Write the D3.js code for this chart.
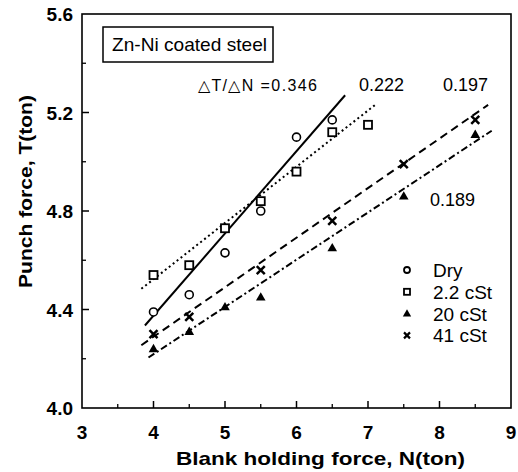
<!DOCTYPE html>
<html>
<head>
<meta charset="utf-8">
<script src="https://cdn.jsdelivr.net/npm/d3@7"></script>
<style>
  body { margin: 0; background: #fff; }
  svg text { font-family: "Liberation Sans", Arial, sans-serif; fill: #000; }
</style>
</head>
<body>
<svg id="chart" width="518" height="472"></svg>
<script>
// data
var xTicks = [3, 4, 5, 6, 7, 8, 9];
var yTicks = [4.0, 4.4, 4.8, 5.2, 5.6];
var xMinor = [3.5, 4.5, 5.5, 6.5, 7.5, 8.5];
var yMinor = [4.2, 4.6, 5.0, 5.4];

var dryN = [4, 4.5, 5, 5.5, 6, 6.5];
var dryT = [4.39, 4.46, 4.63, 4.80, 5.10, 5.17];
var cst22N = [4, 4.5, 5, 5.5, 6, 6.5, 7];
var cst22T = [4.54, 4.58, 4.73, 4.84, 4.96, 5.12, 5.15];
var cst20N = [4, 4.5, 5, 5.5, 6.5, 7.5, 8.5];
var cst20T = [4.24, 4.31, 4.41, 4.45, 4.65, 4.86, 5.11];
var cst41N = [4, 4.5, 5.5, 6.5, 7.5, 8.5];
var cst41T = [4.30, 4.37, 4.56, 4.76, 4.99, 5.17];

// fitted lines, start and end (N, T)
var dryFit = [[3.88, 4.335], [6.68, 5.27]];
var cst22Fit = [[3.83, 4.484], [7.10, 5.231]];
var cst20Fit = [[3.93, 4.205], [8.73, 5.126]];
var cst41Fit = [[3.83, 4.255], [8.68, 5.231]];

var legendLabels = ["Dry", "2.2 cSt", "20 cSt", "41 cSt"];
var slopeLabels = ["\u25B3T/\u25B3N =0.346", "0.222", "0.197", "0.189"];

var svg = d3.select("#chart");
var x = d3.scaleLinear().domain([3, 9]).range([82, 511]);
var y = d3.scaleLinear().domain([4, 5.6]).range([408, 14]);

// frame
svg.append("rect")
  .attr("x", x(3)).attr("y", y(5.6))
  .attr("width", x(9) - x(3)).attr("height", y(4) - y(5.6))
  .attr("fill", "none").attr("stroke", "#000").attr("stroke-width", 1.6);

// ticks (inward)
svg.selectAll(".xt").data(xTicks.slice(1, -1)).enter().append("line")
  .attr("x1", function(d){ return x(d); }).attr("x2", function(d){ return x(d); })
  .attr("y1", y(4)).attr("y2", y(4) - 7).attr("stroke", "#000").attr("stroke-width", 1.5);
svg.selectAll(".xm").data(xMinor).enter().append("line")
  .attr("x1", function(d){ return x(d); }).attr("x2", function(d){ return x(d); })
  .attr("y1", y(4)).attr("y2", y(4) - 4).attr("stroke", "#000").attr("stroke-width", 1.3);
svg.selectAll(".yt").data(yTicks.slice(1, -1)).enter().append("line")
  .attr("y1", function(d){ return y(d); }).attr("y2", function(d){ return y(d); })
  .attr("x1", x(3)).attr("x2", x(3) + 7).attr("stroke", "#000").attr("stroke-width", 1.5);
svg.selectAll(".ym").data(yMinor).enter().append("line")
  .attr("y1", function(d){ return y(d); }).attr("y2", function(d){ return y(d); })
  .attr("x1", x(3)).attr("x2", x(3) + 4).attr("stroke", "#000").attr("stroke-width", 1.3);

// tick labels
svg.selectAll(".xl").data(xTicks).enter().append("text")
  .attr("x", function(d){ return x(d); }).attr("y", 439)
  .attr("text-anchor", "middle").attr("font-size", 19).attr("font-weight", "bold")
  .text(function(d){ return d; });
svg.selectAll(".yl").data(yTicks).enter().append("text")
  .attr("x", 73).attr("y", function(d){ return y(d) + 7; })
  .attr("text-anchor", "end").attr("font-size", 19).attr("font-weight", "bold")
  .text(function(d){ return d.toFixed(1); });

// axis titles
svg.append("text").attr("x", 176).attr("y", 465)
  .attr("font-size", 19).attr("font-weight", "bold")
  .attr("textLength", 289).attr("lengthAdjust", "spacingAndGlyphs")
  .text("Blank holding force, N(ton)");
svg.append("text").attr("transform", "translate(32,288) rotate(-90)")
  .attr("font-size", 19).attr("font-weight", "bold")
  .attr("textLength", 193).attr("lengthAdjust", "spacingAndGlyphs")
  .text("Punch force, T(ton)");

// title box
svg.append("rect").attr("x", 103).attr("y", 27).attr("width", 170).attr("height", 35)
  .attr("fill", "none").attr("stroke", "#000").attr("stroke-width", 1.5);
svg.append("text").attr("x", 112).attr("y", 51).attr("font-size", 19)
  .attr("textLength", 155).attr("lengthAdjust", "spacingAndGlyphs")
  .text("Zn-Ni coated steel");

// fit lines
var line = d3.line().x(function(d){ return x(d[0]); }).y(function(d){ return y(d[1]); });
var fits = [
  {pts: dryFit, dash: null},
  {pts: cst22Fit, dash: "2,3"},
  {pts: cst20Fit, dash: "7,3,2,3"},
  {pts: cst41Fit, dash: "8,5"}
];
svg.selectAll(".fit").data(fits).enter().append("path")
  .attr("d", function(d){ return line(d.pts); })
  .attr("fill", "none").attr("stroke", "#000").attr("stroke-width", 2)
  .attr("stroke-dasharray", function(d){ return d.dash; });

// markers
function drawMarker(g, type, cx, cy) {
  if (type === 0) {
    g.append("circle").attr("cx", cx).attr("cy", cy).attr("r", 4)
      .attr("fill", "#fff").attr("stroke", "#000").attr("stroke-width", 1.6);
  } else if (type === 1) {
    g.append("rect").attr("x", cx - 4).attr("y", cy - 4).attr("width", 8).attr("height", 8)
      .attr("fill", "#fff").attr("stroke", "#000").attr("stroke-width", 1.8);
  } else if (type === 2) {
    g.append("path").attr("d", d3.symbol().type(d3.symbolTriangle).size(40)())
      .attr("transform", "translate(" + cx + "," + (cy + 0.5) + ")").attr("fill", "#000");
  } else {
    g.append("path").attr("d", "M-4,-4L4,4M-4,4L4,-4")
      .attr("transform", "translate(" + cx + "," + cy + ")")
      .attr("stroke", "#000").attr("stroke-width", 2.5);
  }
}
var series = [[dryN, dryT], [cst22N, cst22T], [cst20N, cst20T], [cst41N, cst41T]];
var pts = svg.append("g");
series.forEach(function(s, k) {
  s[0].forEach(function(n, i) { drawMarker(pts, k, x(n), y(s[1][i])); });
});

// slope labels
svg.append("text").attr("x", 198).attr("y", 91).attr("font-size", 16)
  .attr("textLength", 119).attr("lengthAdjust", "spacing").text(slopeLabels[0]);
svg.append("text").attr("x", 359).attr("y", 91).attr("font-size", 18).text(slopeLabels[1]);
svg.append("text").attr("x", 443).attr("y", 91).attr("font-size", 18).text(slopeLabels[2]);
svg.append("text").attr("x", 430).attr("y", 206).attr("font-size", 18).text(slopeLabels[3]);

// legend
var leg = svg.append("g");
legendLabels.forEach(function(l, i) {
  var ly = 270 + i * 21.8;
  if (i === 0) {
    leg.append("circle").attr("cx", 407).attr("cy", ly).attr("r", 3)
      .attr("fill", "#fff").attr("stroke", "#000").attr("stroke-width", 1.8);
  } else if (i === 1) {
    leg.append("rect").attr("x", 404).attr("y", ly - 3).attr("width", 6).attr("height", 6)
      .attr("fill", "#fff").attr("stroke", "#000").attr("stroke-width", 1.8);
  } else if (i === 2) {
    leg.append("path").attr("d", d3.symbol().type(d3.symbolTriangle).size(30)())
      .attr("transform", "translate(407," + (ly + 0.5) + ")").attr("fill", "#000");
  } else {
    leg.append("path").attr("d", "M-3,-3L3,3M-3,3L3,-3")
      .attr("transform", "translate(407," + ly + ")")
      .attr("stroke", "#000").attr("stroke-width", 2.2);
  }
  leg.append("text").attr("x", 433).attr("y", ly + 7).attr("font-size", 19).text(l);
});
</script>
</body>
</html>
